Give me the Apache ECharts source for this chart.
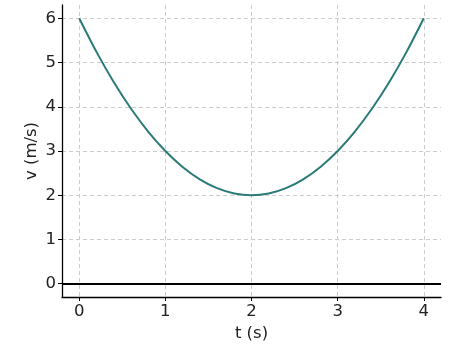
<!DOCTYPE html>
<html><head><meta charset="utf-8">
<script src="https://cdn.jsdelivr.net/npm/echarts@6/dist/echarts.min.js"></script>
<style>html,body{margin:0;padding:0;background:#fff}#c{width:450px;height:345px}</style>
</head><body><div id="c"></div>
<script>
const tValues = [0, 0.2, 0.4, 0.6, 0.8, 1, 1.2, 1.4, 1.6, 1.8, 2, 2.2, 2.4, 2.6, 2.8, 3, 3.2, 3.4, 3.6, 3.8, 4];
const vValues = [6, 5.24, 4.56, 3.96, 3.44, 3, 2.64, 2.36, 2.16, 2.04, 2, 2.04, 2.16, 2.36, 2.64, 3, 3.44, 3.96, 4.56, 5.24, 6];
const xTicks = [0, 1, 2, 3, 4];
const yTicks = [0, 1, 2, 3, 4, 5, 6];
const font = 'DejaVu Sans';
const chart = echarts.init(document.getElementById('c'));
chart.setOption({
  animation: false,
  grid: {left: 62, right: 9, top: 5, bottom: 48, outerBoundsMode: 'none', containLabel: false},
  xAxis: {
    type: 'value', min: -0.2, max: 4.2,
    name: 't (s)', nameLocation: 'middle', nameGap: 27,
    nameTextStyle: {fontFamily: font, fontSize: 16.5, color: '#222'},
    axisLine: {onZero: false, lineStyle: {color: '#000', width: 1.3}},
    axisTick: {show: true, length: 4, inside: false, customValues: xTicks, lineStyle: {color: '#000'}},
    axisLabel: {customValues: xTicks, fontFamily: font, fontSize: 16.5, color: '#222', margin: 6},
    splitLine: {show: true, lineStyle: {color: '#cccccc', type: [4, 3], width: 1}}
  },
  yAxis: {
    type: 'value', min: -0.3, max: 6.3,
    name: 'v (m/s)', nameLocation: 'middle', nameGap: 22, nameMoveOverlap: false,
    nameTextStyle: {fontFamily: font, fontSize: 16.5, color: '#222'},
    axisLine: {show: true, onZero: false, lineStyle: {color: '#000', width: 1.3}},
    axisTick: {show: true, length: 4, inside: false, customValues: yTicks, lineStyle: {color: '#000'}},
    axisLabel: {customValues: yTicks, fontFamily: font, fontSize: 16.5, color: '#222', margin: 6},
    splitLine: {show: true, lineStyle: {color: '#cccccc', type: [4, 3], width: 1}}
  },
  series: [{
    type: 'line', data: tValues.map((t, i) => [t, vValues[i]]),
    smooth: 0.3, showSymbol: false,
    lineStyle: {color: '#2a7a78', width: 2},
    markLine: {
      silent: true, symbol: 'none', label: {show: false},
      lineStyle: {color: '#000', width: 2, type: 'solid'},
      data: [{yAxis: 0}]
    }
  }]
});
</script></body></html>
